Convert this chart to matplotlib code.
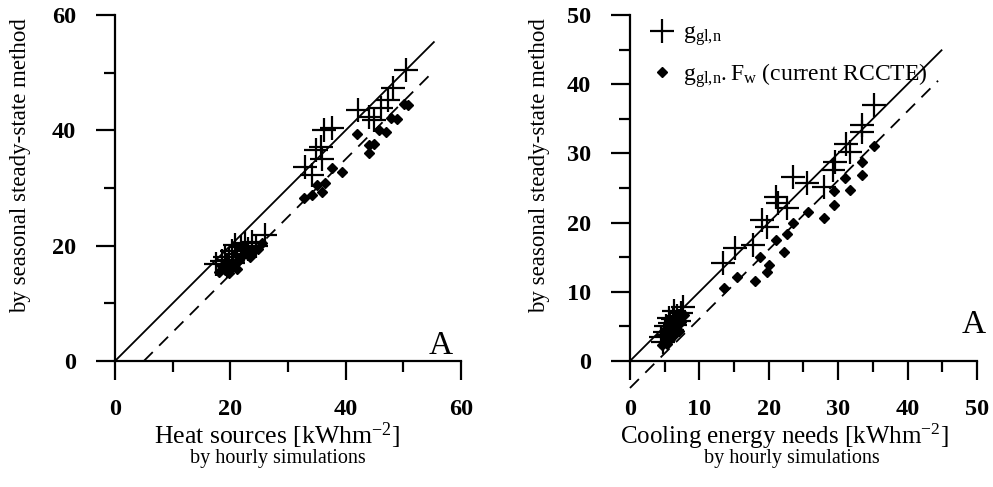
import matplotlib
matplotlib.use('Agg')
import matplotlib.pyplot as plt
from matplotlib.ticker import MultipleLocator

plt.rcParams['font.family'] = ['Liberation Serif', 'DejaVu Serif']
plt.rcParams['mathtext.fontset'] = 'custom'
plt.rcParams['mathtext.rm'] = 'Liberation Serif'
plt.rcParams['mathtext.it'] = 'Liberation Serif:italic'

# Left panel: heat sources (hourly x, seasonal y)
heat_gl_x = [17.5, 18.5, 19.0, 19.8, 20.3, 20.8, 21.2, 21.8, 22.5, 23.0, 23.8, 24.5, 26.1,
             19.5, 20.5, 33.0, 34.2, 34.8, 35.7, 35.9, 37.7, 36.3, 42.1, 44.0, 44.9, 46.1,
             47.3, 48.3, 50.4]
heat_gl_y = [16.8, 17.3, 18.0, 17.5, 19.0, 20.2, 18.6, 19.8, 20.4, 19.4, 20.6, 20.0, 21.8,
             16.5, 17.0, 33.7, 32.2, 36.6, 37.1, 35.1, 40.4, 40.0, 43.5, 42.3, 41.8, 43.8,
             45.2, 47.3, 50.4]
heat_fw_x = [18.0, 19.0, 19.8, 20.3, 20.8, 21.5, 22.0, 22.5, 23.5, 24.0, 24.8, 25.5, 20.0,
             18.6, 21.2, 32.7, 34.2, 35.1, 35.9, 36.5, 37.7, 39.4, 42.0, 44.0, 44.0, 44.9,
             45.8, 47.0, 47.8, 48.9, 50.2, 50.8]
heat_fw_y = [15.5, 15.8, 15.2, 16.3, 17.0, 17.5, 18.2, 18.8, 18.0, 19.0, 19.5, 20.4, 16.8,
             16.5, 16.0, 28.2, 28.8, 30.5, 29.3, 30.8, 33.4, 32.8, 39.4, 36.0, 37.4, 37.7,
             40.0, 39.7, 42.2, 41.9, 44.6, 44.4]

# Right panel: cooling energy needs
cool_gl_x = [4.5, 5.0, 5.2, 5.5, 5.8, 6.0, 6.2, 6.5, 6.8, 7.0, 7.3, 7.6, 5.6, 4.8, 6.4,
             13.4, 15.1, 17.8, 19.0, 19.7, 21.1, 21.4, 22.6, 23.5, 25.5, 27.9, 29.3, 29.5,
             31.2, 31.7, 33.4, 33.5, 35.2]
cool_gl_y = [3.5, 4.2, 5.0, 3.8, 5.5, 4.5, 6.0, 5.2, 6.5, 5.8, 7.0, 7.8, 6.2, 2.8, 7.2,
             14.1, 16.3, 16.8, 20.4, 19.4, 23.7, 22.8, 22.1, 26.6, 25.7, 25.2, 27.6, 28.8,
             31.4, 30.2, 33.1, 34.1, 37.0]
cool_fw_x = [4.6, 5.0, 5.3, 5.5, 5.8, 6.0, 6.2, 6.5, 6.8, 7.0, 7.3, 7.8, 5.2, 6.1, 4.8,
             13.5, 15.4, 18.0, 18.7, 19.8, 20.1, 21.1, 22.2, 22.7, 23.5, 25.7, 27.9, 29.4,
             29.4, 31.0, 31.7, 33.5, 33.5, 35.2]
cool_fw_y = [2.3, 3.0, 2.5, 3.6, 3.2, 4.2, 3.6, 4.6, 5.2, 4.4, 5.6, 6.6, 4.5, 5.5, 3.8,
             10.5, 12.2, 11.5, 15.1, 12.9, 13.9, 17.5, 15.8, 18.4, 19.9, 21.6, 20.6, 22.5,
             24.5, 26.4, 24.7, 26.9, 28.7, 31.0]

# reference lines (endpoints)
heat_solid_x = [0, 55.3]
heat_solid_y = [0, 55.3]
heat_dash_x = [5, 55.2]
heat_dash_y = [0, 50.2]
cool_solid_x = [0, 44.9]
cool_solid_y = [0, 44.9]
cool_dash_x = [0, 44.4]
cool_dash_y = [-3.9, 40.5]

fig = plt.figure(figsize=(9.93, 4.87), dpi=100)
ax1 = fig.add_axes([0.1158, 0.2587, 0.3484, 0.7105])
ax2 = fig.add_axes([0.6344, 0.2587, 0.3494, 0.7105])


def style(ax, top, major, minor):
    ax.set_xlim(0, top)
    ax.set_ylim(0, top)
    for s in ['top', 'right']:
        ax.spines[s].set_visible(False)
    for s in ['left', 'bottom']:
        ax.spines[s].set_linewidth(1.6)
    ax.xaxis.set_major_locator(MultipleLocator(major))
    ax.yaxis.set_major_locator(MultipleLocator(major))
    ax.xaxis.set_minor_locator(MultipleLocator(minor))
    ax.yaxis.set_minor_locator(MultipleLocator(minor))
    ax.tick_params(which='major', length=14, width=1.6, direction='out', labelsize=17.5)
    ax.tick_params(axis='x', which='major', pad=13)
    ax.tick_params(axis='y', which='major', pad=14)
    ax.tick_params(which='minor', length=8, width=1.6, direction='out')
    for lab in ax.get_xticklabels() + ax.get_yticklabels():
        lab.set_fontweight('bold')


cross_kw = dict(linestyle='none', marker='+', markersize=17, mew=1.6, color='black',
                clip_on=False)
dia_kw = dict(linestyle='none', marker='D', markersize=5.5, color='black', clip_on=False)

ax1.plot(heat_solid_x, heat_solid_y, color='black', lw=1.3)
ax1.plot(heat_dash_x, heat_dash_y, color='black', lw=1.3, ls=(0, (7, 5)))
ax1.plot(heat_gl_x, heat_gl_y, **cross_kw)
ax1.plot(heat_fw_x, heat_fw_y, **dia_kw)
style(ax1, 60, 20, 10)
ax1.text(0.975, 0.0, 'A', transform=ax1.transAxes, ha='right', va='bottom', fontsize=24)

ax2.plot(cool_solid_x, cool_solid_y, color='black', lw=1.3)
ax2.plot(cool_dash_x, cool_dash_y, color='black', lw=1.3, ls=(0, (7, 5)), clip_on=False)
g1, = ax2.plot(cool_gl_x, cool_gl_y, **cross_kw)
g2, = ax2.plot(cool_fw_x, cool_fw_y, **dia_kw)
style(ax2, 50, 10, 5)
ax2.text(1.025, 0.06, 'A', transform=ax2.transAxes, ha='right', va='bottom', fontsize=24)

ax2.legend([g1, g2], [r'$\mathrm{g_{gl{,}n}}$', r'$\mathrm{g_{gl{,}n}.F_w}$ (current RCCTE)'],
           loc='upper left', bbox_to_anchor=(-0.01, 1.04), frameon=False, fontsize=17,
           handletextpad=0.3, labelspacing=0.55, handlelength=1.2)

# axis titles
fig.text(0.279, 0.105, r'Heat sources [kWhm$^{\mathregular{-2}}$]', ha='center', va='center',
         fontsize=18.5)
fig.text(0.280, 0.058, 'by hourly simulations', ha='center', va='center', fontsize=14.5)
fig.text(0.790, 0.105, r'Cooling energy needs [kWhm$^{\mathregular{-2}}$]', ha='center',
         va='center', fontsize=18)
fig.text(0.797, 0.058, 'by hourly simulations', ha='center', va='center', fontsize=14.5)
fig.text(0.021, 0.661, 'by seasonal steady-state method', rotation=90, ha='center',
         va='center', fontsize=16.5)
fig.text(0.543, 0.661, 'by seasonal steady-state method', rotation=90, ha='center',
         va='center', fontsize=16.5)

fig.savefig('out.png', dpi=100)
